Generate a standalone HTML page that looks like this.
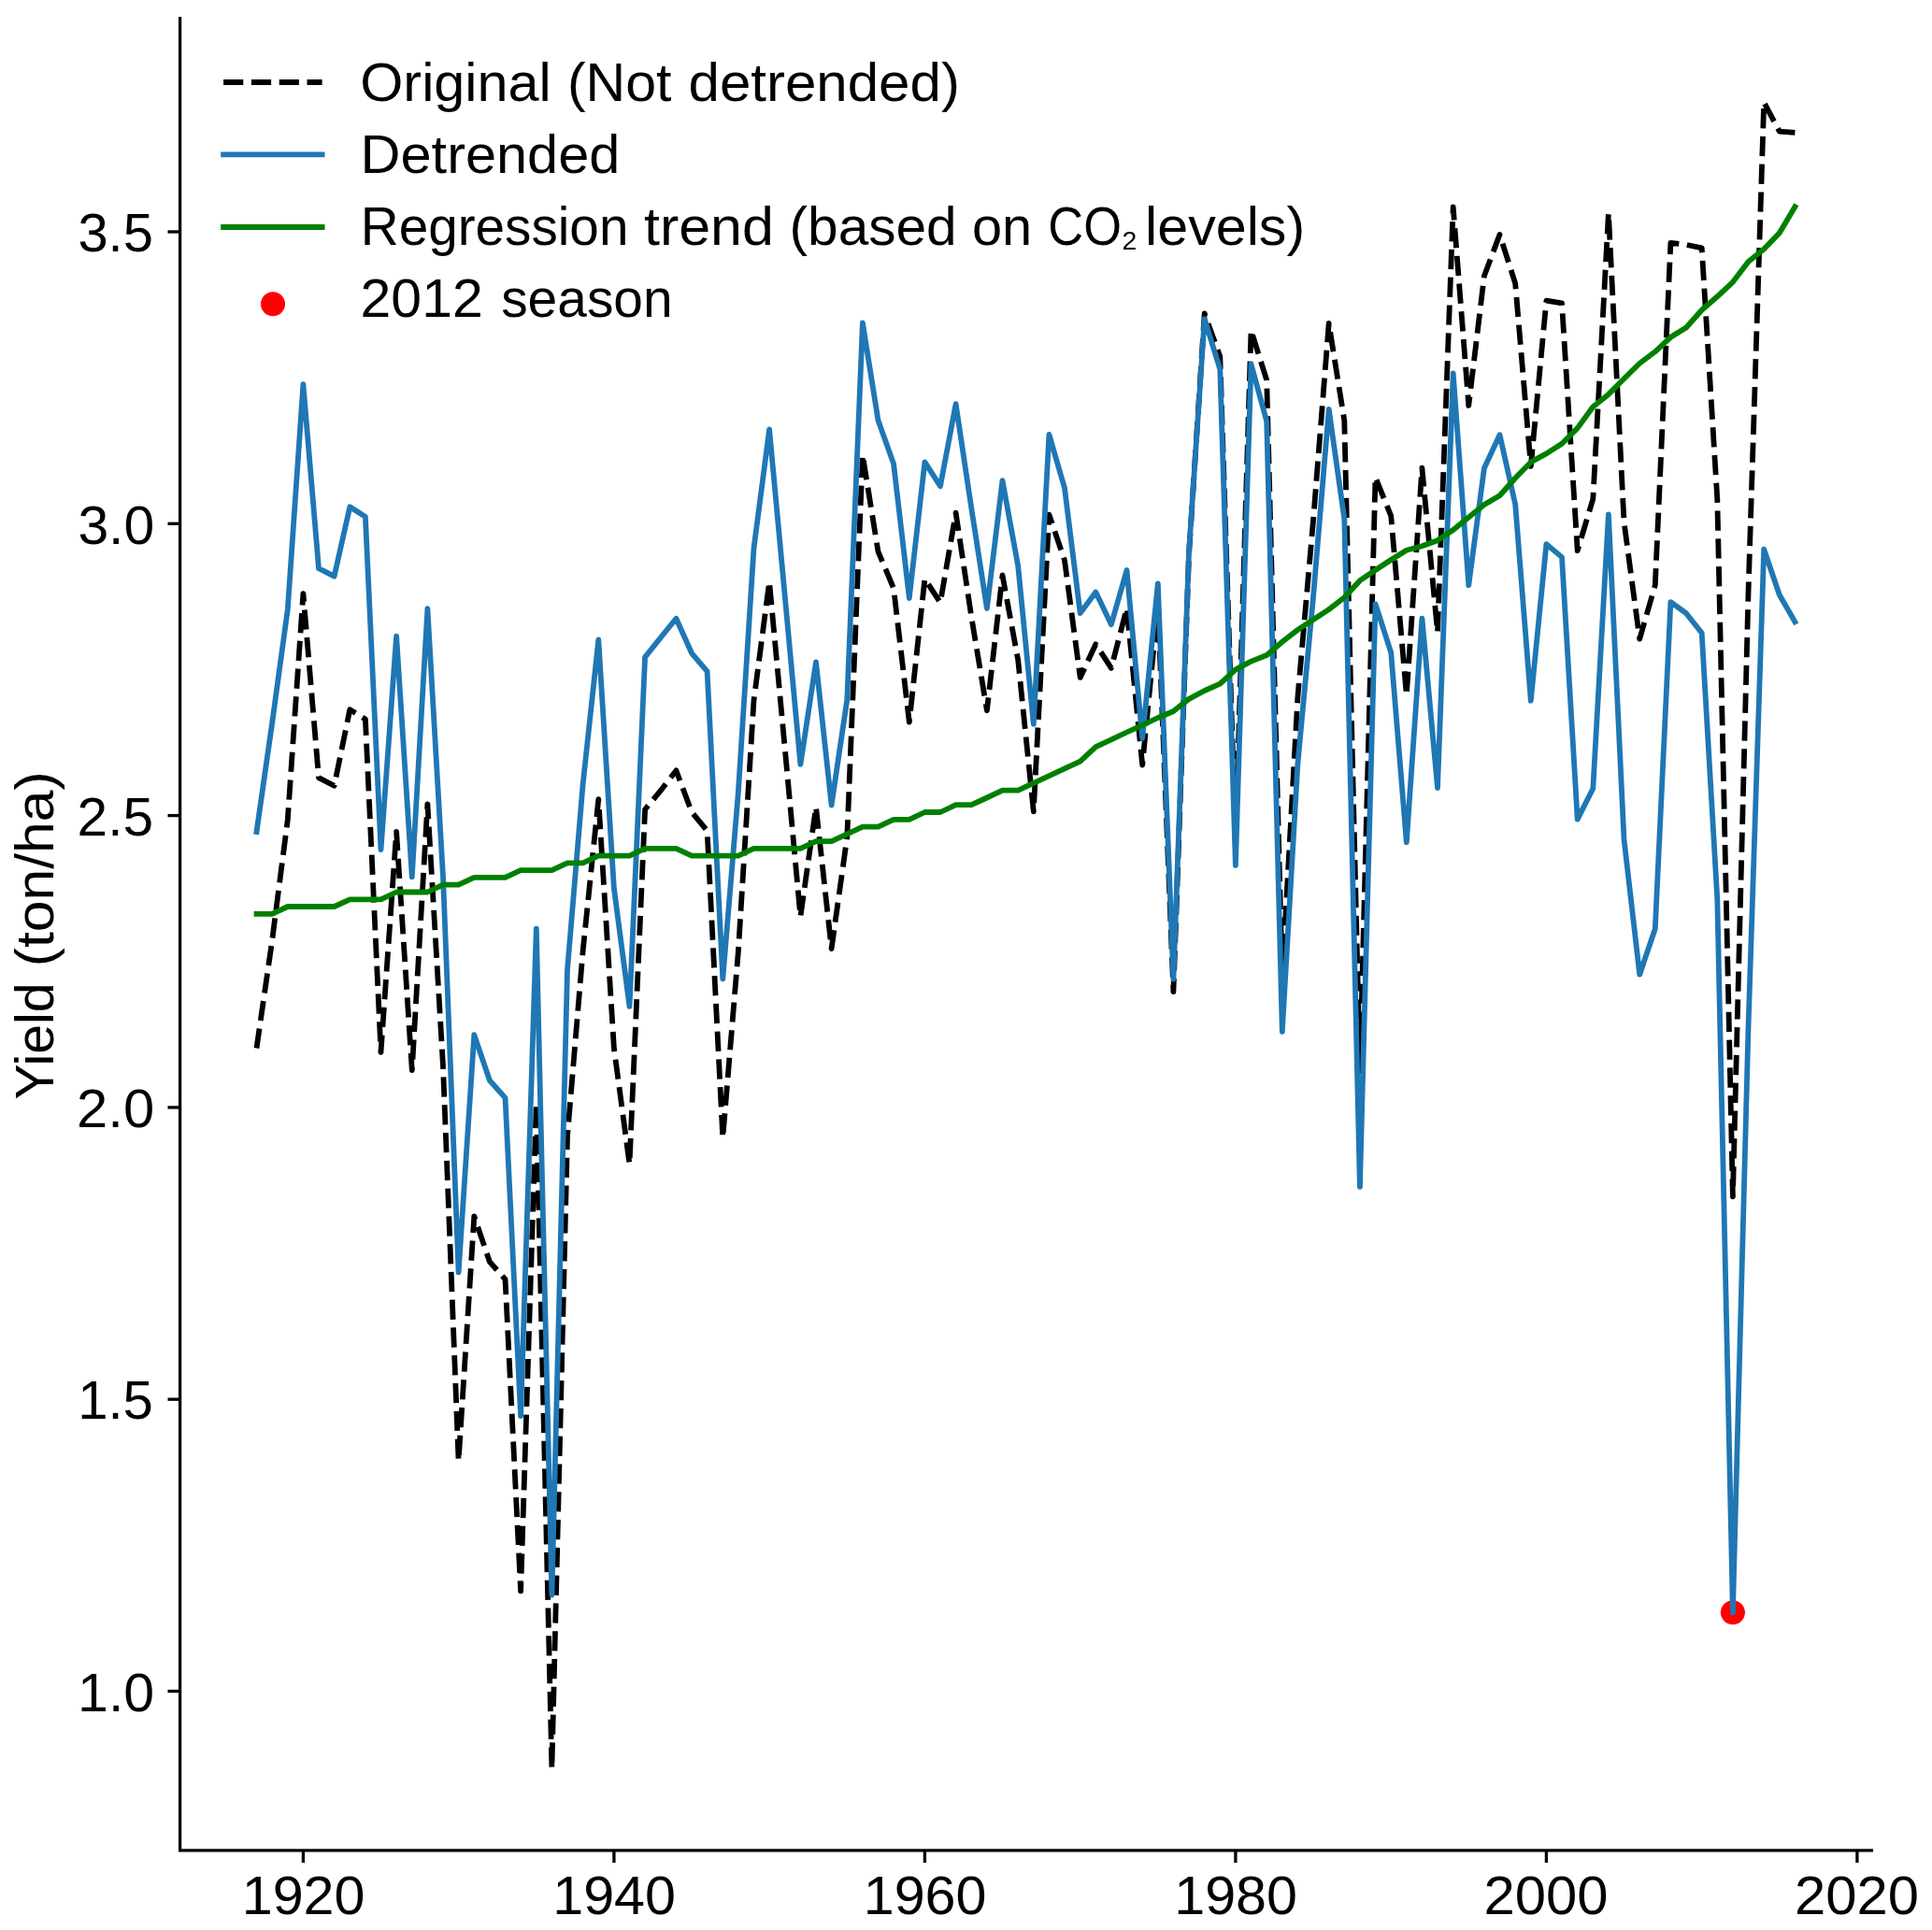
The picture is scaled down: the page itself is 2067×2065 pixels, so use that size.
<!DOCTYPE html>
<html><head><meta charset="utf-8"><title>Yield chart</title>
<style>
html,body{margin:0;padding:0;background:#fff;}
svg{display:block}
text{font-family:"Liberation Sans",sans-serif;fill:#000}
</style></head><body>
<svg width="2067" height="2065" viewBox="0 0 2067 2065">
<rect x="0" y="0" width="2067" height="2065" fill="#fff"/>
<circle cx="1853.9" cy="1725.3" r="13" fill="#ff0000"/>
<polyline points="274.5,1121.5 291.1,1006.7 307.8,876.8 324.4,635.1 341.0,832.1 357.6,840.7 374.3,759.2 390.9,769.5 407.5,1125.8 424.1,889.9 440.8,1145.1 457.4,860.4 474.0,1140.6 490.6,1563.1 507.3,1301.3 523.9,1350.1 540.5,1368.7 557.1,1702.4 573.8,1180.8 590.4,1892.4 607.0,1216.1 623.6,1017.8 640.3,855.2 656.9,1121.5 673.5,1245.5 690.1,866.0 706.8,845.9 723.4,824.4 740.0,868.7 756.6,889.0 773.3,1217.5 789.9,1017.6 806.5,749.3 823.1,622.4 839.8,801.3 856.4,980.8 873.0,863.5 889.6,1015.0 906.3,895.7 922.9,486.9 939.5,590.1 956.1,629.5 972.8,772.7 989.4,619.4 1006.0,644.8 1022.6,548.7 1039.3,660.1 1055.9,760.2 1072.5,615.5 1089.2,706.2 1105.8,868.3 1122.4,550.6 1139.0,599.6 1155.7,724.9 1172.3,689.3 1188.9,714.8 1205.5,650.7 1222.2,818.5 1238.8,647.3 1255.4,1061.1 1272.0,593.5 1288.7,335.4 1305.3,381.6 1321.9,897.1 1338.5,353.4 1355.2,406.6 1371.8,1045.5 1388.4,746.0 1405.0,557.0 1421.7,345.9 1438.3,450.0 1454.9,1145.9 1471.5,510.7 1488.2,551.9 1504.8,743.9 1521.4,500.7 1538.0,676.4 1554.7,221.5 1571.3,433.9 1587.9,295.3 1604.5,250.9 1621.2,303.4 1637.8,498.9 1654.4,321.7 1671.0,324.4 1687.7,589.2 1704.3,534.0 1720.9,228.0 1737.5,558.5 1754.2,683.7 1770.8,626.0 1787.4,259.8 1804.0,261.8 1820.7,265.3 1837.3,534.2 1853.9,1280.3 1870.5,633.6 1887.2,109.4 1903.8,140.6 1920.4,141.9" fill="none" stroke="#000" stroke-width="5.8" stroke-dasharray="21.2 8.6" stroke-linejoin="round" stroke-linecap="butt"/>
<polyline points="274.5,890.0 291.1,774.0 307.8,651.8 324.4,411.2 341.0,608.2 357.6,616.6 374.3,542.3 390.9,552.9 407.5,909.0 424.1,680.7 440.8,938.3 457.4,651.2 474.0,938.0 490.6,1361.4 507.3,1107.2 523.9,1156.0 540.5,1174.6 557.1,1515.0 573.8,993.7 590.4,1706.5 607.0,1037.7 623.6,839.5 640.3,684.5 656.9,950.5 673.5,1076.8 690.1,703.1 706.8,682.3 723.4,661.7 740.0,698.8 756.6,718.4 773.3,1047.4 789.9,847.0 806.5,586.5 823.1,459.4 839.8,638.5 856.4,817.9 873.0,708.4 889.6,861.5 906.3,748.4 922.9,345.5 939.5,449.8 956.1,496.4 972.8,640.0 989.4,494.4 1006.0,520.2 1022.6,432.2 1039.3,543.9 1055.9,651.0 1072.5,514.2 1089.2,605.6 1105.8,774.8 1122.4,464.8 1139.0,522.3 1155.7,656.1 1172.3,633.5 1188.9,668.2 1205.5,610.0 1222.2,790.0 1238.8,624.4 1255.4,1047.7 1272.0,590.7 1288.7,341.1 1305.3,395.1 1321.9,925.8 1338.5,389.6 1355.2,450.7 1371.8,1103.8 1388.4,817.2 1405.0,639.1 1421.7,437.9 1438.3,555.3 1454.9,1269.8 1471.5,646.2 1488.2,698.2 1504.8,901.2 1521.4,661.6 1538.0,843.1 1554.7,399.5 1571.3,626.2 1587.9,501.0 1604.5,465.2 1621.2,539.7 1637.8,749.8 1654.4,582.1 1671.0,596.1 1687.7,876.6 1704.3,843.8 1720.9,550.4 1737.5,898.0 1754.2,1042.7 1770.8,993.7 1787.4,644.1 1804.0,656.2 1820.7,677.3 1837.3,962.0 1853.9,1725.3 1870.5,1098.6 1887.2,587.7 1903.8,636.5 1920.4,665.4" fill="none" stroke="#1f77b4" stroke-width="5.8" stroke-linejoin="round" stroke-linecap="square"/>
<polyline points="274.5,977.8 291.1,977.8 307.8,970.0 324.4,970.0 341.0,970.0 357.6,970.0 374.3,962.3 390.9,962.3 407.5,962.3 424.1,954.5 440.8,954.5 457.4,954.5 474.0,946.7 490.6,946.7 507.3,938.9 523.9,938.9 540.5,938.9 557.1,931.2 573.8,931.2 590.4,931.2 607.0,923.4 623.6,923.4 640.3,915.6 656.9,915.6 673.5,915.6 690.1,907.9 706.8,907.9 723.4,907.9 740.0,915.6 756.6,915.6 773.3,915.6 789.9,915.6 806.5,907.9 823.1,907.9 839.8,907.9 856.4,907.9 873.0,900.1 889.6,900.1 906.3,892.3 922.9,884.6 939.5,884.6 956.1,876.8 972.8,876.8 989.4,869.0 1006.0,869.0 1022.6,861.2 1039.3,861.2 1055.9,853.5 1072.5,845.7 1089.2,845.7 1105.8,837.9 1122.4,830.2 1139.0,822.4 1155.7,814.6 1172.3,799.1 1188.9,791.3 1205.5,783.5 1222.2,775.8 1238.8,768.0 1255.4,761.0 1272.0,747.9 1288.7,739.0 1305.3,731.6 1321.9,716.4 1338.5,707.6 1355.2,701.0 1371.8,686.8 1388.4,673.9 1405.0,663.0 1421.7,652.1 1438.3,639.3 1454.9,621.2 1471.5,610.0 1488.2,599.0 1504.8,588.8 1521.4,584.3 1538.0,578.2 1554.7,567.0 1571.3,553.5 1587.9,540.1 1604.5,530.2 1621.2,511.5 1637.8,494.4 1654.4,485.4 1671.0,474.7 1687.7,458.1 1704.3,435.3 1720.9,421.9 1737.5,405.3 1754.2,388.8 1770.8,376.3 1787.4,360.8 1804.0,350.5 1820.7,331.8 1837.3,317.3 1853.9,301.8 1870.5,280.1 1887.2,266.6 1903.8,249.2 1920.4,221.2" fill="none" stroke="#008000" stroke-width="5.8" stroke-linejoin="round" stroke-linecap="square"/>
<path d="M192.6,17.9 V1979.9 H2004.0" fill="none" stroke="#000" stroke-width="3.3" stroke-linecap="butt" stroke-linejoin="miter"/>
<line x1="179.5" x2="192.6" y1="1809.5" y2="1809.5" stroke="#000" stroke-width="3.3"/>
<text x="83.1" y="1830.7" font-size="58" textLength="82.1" lengthAdjust="spacingAndGlyphs">1.0</text>
<line x1="179.5" x2="192.6" y1="1497.2" y2="1497.2" stroke="#000" stroke-width="3.3"/>
<text x="83.2" y="1518.4" font-size="58" textLength="80.7" lengthAdjust="spacingAndGlyphs">1.5</text>
<line x1="179.5" x2="192.6" y1="1184.9" y2="1184.9" stroke="#000" stroke-width="3.3"/>
<text x="82.1" y="1206.1" font-size="58" textLength="83.1" lengthAdjust="spacingAndGlyphs">2.0</text>
<line x1="179.5" x2="192.6" y1="872.6" y2="872.6" stroke="#000" stroke-width="3.3"/>
<text x="82.6" y="893.8" font-size="58" textLength="81.4" lengthAdjust="spacingAndGlyphs">2.5</text>
<line x1="179.5" x2="192.6" y1="560.3" y2="560.3" stroke="#000" stroke-width="3.3"/>
<text x="83.4" y="581.5" font-size="58" textLength="81.8" lengthAdjust="spacingAndGlyphs">3.0</text>
<line x1="179.5" x2="192.6" y1="248.0" y2="248.0" stroke="#000" stroke-width="3.3"/>
<text x="83.4" y="269.2" font-size="58" textLength="80.5" lengthAdjust="spacingAndGlyphs">3.5</text>
<line x1="324.4" x2="324.4" y1="1979.9" y2="1993.0" stroke="#000" stroke-width="3.3"/>
<text x="258.7" y="2048.0" font-size="58" textLength="131.8" lengthAdjust="spacingAndGlyphs">1920</text>
<line x1="656.9" x2="656.9" y1="1979.9" y2="1993.0" stroke="#000" stroke-width="3.3"/>
<text x="591.2" y="2048.0" font-size="58" textLength="131.8" lengthAdjust="spacingAndGlyphs">1940</text>
<line x1="989.4" x2="989.4" y1="1979.9" y2="1993.0" stroke="#000" stroke-width="3.3"/>
<text x="923.7" y="2048.0" font-size="58" textLength="131.8" lengthAdjust="spacingAndGlyphs">1960</text>
<line x1="1321.9" x2="1321.9" y1="1979.9" y2="1993.0" stroke="#000" stroke-width="3.3"/>
<text x="1256.2" y="2048.0" font-size="58" textLength="131.8" lengthAdjust="spacingAndGlyphs">1980</text>
<line x1="1654.4" x2="1654.4" y1="1979.9" y2="1993.0" stroke="#000" stroke-width="3.3"/>
<text x="1587.4" y="2048.0" font-size="58" textLength="133.1" lengthAdjust="spacingAndGlyphs">2000</text>
<line x1="1986.9" x2="1986.9" y1="1979.9" y2="1993.0" stroke="#000" stroke-width="3.3"/>
<text x="1919.9" y="2048.0" font-size="58" textLength="133.1" lengthAdjust="spacingAndGlyphs">2020</text>
<g transform="translate(57.1,0) rotate(-90)">
<text x="-1176.6" y="0.0" font-size="58" textLength="125.3" lengthAdjust="spacingAndGlyphs">Yield</text>
<text x="-1034.3" y="0.0" font-size="58" textLength="209.1" lengthAdjust="spacingAndGlyphs">(ton/ha)</text>
</g>
<line x1="239.1" x2="344.6" y1="88" y2="88" stroke="#000" stroke-width="5.8" stroke-dasharray="21.2 8.6"/>
<line x1="239.1" x2="344.6" y1="165.4" y2="165.4" stroke="#1f77b4" stroke-width="5.8" stroke-linecap="square"/>
<line x1="239.1" x2="344.6" y1="243" y2="243" stroke="#008000" stroke-width="5.8" stroke-linecap="square"/>
<circle cx="292" cy="325.2" r="13" fill="#ff0000"/>
<text x="385.2" y="107.5" font-size="58" textLength="204.6" lengthAdjust="spacingAndGlyphs">Original</text>
<text x="606.9" y="107.5" font-size="58" textLength="111.6" lengthAdjust="spacingAndGlyphs">(Not</text>
<text x="736.5" y="107.5" font-size="58" textLength="290.4" lengthAdjust="spacingAndGlyphs">detrended)</text>
<text x="385.6" y="184.6" font-size="58" textLength="277.7" lengthAdjust="spacingAndGlyphs">Detrended</text>
<text x="385.8" y="261.7" font-size="58" textLength="286.6" lengthAdjust="spacingAndGlyphs">Regression</text>
<text x="689.0" y="261.7" font-size="58" textLength="138.9" lengthAdjust="spacingAndGlyphs">trend</text>
<text x="844.6" y="261.7" font-size="58" textLength="179.0" lengthAdjust="spacingAndGlyphs">(based</text>
<text x="1040.0" y="261.7" font-size="58" textLength="64.2" lengthAdjust="spacingAndGlyphs">on</text>
<text x="1121.3" y="261.7" font-size="58" textLength="78.6" lengthAdjust="spacingAndGlyphs">CO</text>
<clipPath id="c2"><text x="1200.4" y="266.5" font-size="28" textLength="15.8" lengthAdjust="spacingAndGlyphs">2</text></clipPath><rect x="1198" y="240" width="22" height="32" fill="#000" clip-path="url(#c2)"/>
<text x="1225.1" y="261.7" font-size="58" textLength="171.1" lengthAdjust="spacingAndGlyphs">levels)</text>
<text x="385.6" y="338.6" font-size="58" textLength="131.1" lengthAdjust="spacingAndGlyphs">2012</text>
<text x="536.2" y="338.6" font-size="58" textLength="183.4" lengthAdjust="spacingAndGlyphs">season</text>
</svg>
</body></html>
